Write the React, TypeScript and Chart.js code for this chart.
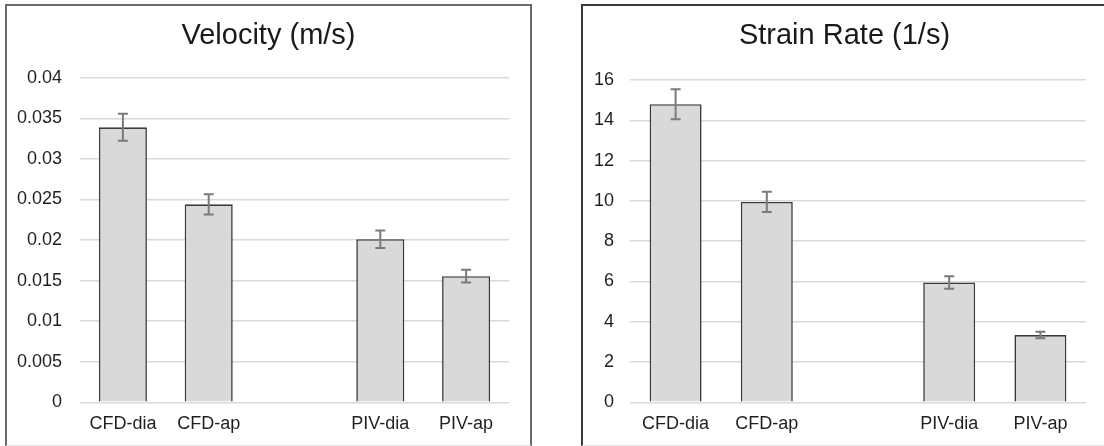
import React, { useEffect, useRef } from "react";
import { Chart, registerables } from "chart.js";

Chart.register(...registerables);

const categories = ["CFD-dia", "CFD-ap", "", "PIV-dia", "PIV-ap"];

const velocityValues = [0.0339, 0.0244, null, 0.0201, 0.01555];
const velocityErrors = [0.00167, 0.00124, null, 0.00107, 0.00078];
const velocityTicks = ["0", "0.005", "0.01", "0.015", "0.02", "0.025", "0.03", "0.035", "0.04"];

const strainValues = [14.8, 9.95, null, 5.95, 3.34];
const strainErrors = [0.75, 0.5, null, 0.31, 0.165];
const strainTicks = ["0", "2", "4", "6", "8", "10", "12", "14", "16"];

const FONT = "'Liberation Sans', Arial, Helvetica, sans-serif";

const errorBarPlugin = {
  id: "errorBars",
  afterDatasetsDraw(chart: any) {
    const errs: (number | null)[] = chart.options.plugins.errorBars?.errors || [];
    const yScale = chart.scales.y;
    const meta = chart.getDatasetMeta(0);
    const ctx = chart.ctx;
    ctx.save();
    ctx.strokeStyle = "#7a7a7a";
    ctx.lineWidth = 2;
    meta.data.forEach((bar: any, i: number) => {
      const v = chart.data.datasets[0].data[i];
      const e = errs[i];
      if (v == null || e == null) return;
      const x = bar.x;
      const yt = yScale.getPixelForValue(v + e);
      const yb = yScale.getPixelForValue(v - e);
      ctx.beginPath();
      ctx.moveTo(x, yt);
      ctx.lineTo(x, yb);
      ctx.moveTo(x - 5, yt);
      ctx.lineTo(x + 5, yt);
      ctx.moveTo(x - 5, yb);
      ctx.lineTo(x + 5, yb);
      ctx.stroke();
    });
    ctx.restore();
  },
};

type PanelProps = {
  title: string;
  values: (number | null)[];
  errors: (number | null)[];
  tickLabels: string[];
  max: number;
  step: number;
  yWidth: number;
  rightPad: number;
  titlePadBottom: number;
  tickPad: number;
  barPct: number;
  left: number;
  borderColor: string;
};

function Panel(p: PanelProps) {
  const ref = useRef<HTMLCanvasElement>(null);
  useEffect(() => {
    const chart = new Chart(ref.current!, {
      type: "bar",
      data: {
        labels: categories,
        datasets: [
          {
            data: p.values as any,
            backgroundColor: "#d9d9d9",
            borderColor: "#3a3a3a",
            borderWidth: 1.6,
            categoryPercentage: 1,
            barPercentage: p.barPct,
          },
        ],
      },
      options: {
        animation: false,
        responsive: false,
        maintainAspectRatio: false,
        layout: { padding: 0 },
        plugins: {
          legend: { display: false },
          tooltip: { enabled: false },
          title: {
            display: true,
            text: p.title,
            color: "#1a1a1a",
            font: { family: FONT, size: 29, weight: "normal" },
            padding: { top: 13, bottom: p.titlePadBottom },
          },
          errorBars: { errors: p.errors },
        } as any,
        scales: {
          x: {
            grid: { display: false, drawTicks: false },
            border: { display: false },
            ticks: {
              color: "#1f1f1f",
              font: { family: FONT, size: 18 },
              padding: 11,
              maxRotation: 0,
              autoSkip: false,
            },
            afterFit: (s: any) => {
              s.height = 42.7;
            },
          },
          y: {
            min: 0,
            max: p.max,
            grid: { color: "#d9d9d9", lineWidth: 1.5, drawTicks: false },
            border: { display: false },
            ticks: {
              stepSize: p.step,
              color: "#1f1f1f",
              font: { family: FONT, size: 18 },
              padding: p.tickPad,
              callback: (_v: any, i: number) => p.tickLabels[i],
            },
            afterFit: (s: any) => {
              s.width = p.yWidth;
            },
          },
          spacer: {
            type: "linear",
            position: "right",
            display: true,
            grid: { display: false, drawTicks: false },
            border: { display: false },
            ticks: { display: false },
            afterFit: (s: any) => {
              s.width = p.rightPad;
            },
          },
        } as any,
      },
      plugins: [errorBarPlugin],
    });
    return () => chart.destroy();
  }, []);
  return (
    <div
      style={{
        position: "absolute",
        left: p.left,
        top: 4,
        width: 527,
        height: 442,
        boxSizing: "border-box",
        borderTop: `2px solid ${p.borderColor}`,
        borderLeft: `2px solid ${p.borderColor}`,
        borderRight: `2px solid ${p.borderColor}`,
        borderBottom: "1px solid #e2e2e2",
        background: "#fff",
      }}
    >
      <canvas ref={ref} width={523} height={439} style={{ display: "block", width: 523, height: 439 }} />
    </div>
  );
}

export default function App() {
  return (
    <div
      style={{
        position: "fixed",
        left: 0,
        top: 0,
        width: 1104,
        height: 446,
        overflow: "hidden",
        background: "#fff",
      }}
    >
      <Panel
        title="Velocity (m/s)"
        values={velocityValues}
        errors={velocityErrors}
        tickLabels={velocityTicks}
        max={0.04}
        step={0.005}
        yWidth={73}
        rightPad={21}
        titlePadBottom={24}
        tickPad={18}
        barPct={0.56}
        left={5}
        borderColor="#6a6a6a"
      />
      <Panel
        title="Strain Rate (1/s)"
        values={strainValues}
        errors={strainErrors}
        tickLabels={strainTicks}
        max={16}
        step={2}
        yWidth={47}
        rightPad={20}
        titlePadBottom={26.3}
        tickPad={16}
        barPct={0.57}
        left={581}
        borderColor="#3a3a3a"
      />
    </div>
  );
}
